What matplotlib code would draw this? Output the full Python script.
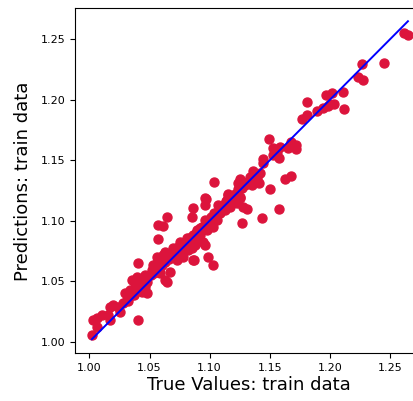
import matplotlib
matplotlib.use("Agg")
import matplotlib.pyplot as plt
import numpy as np

# true target values and model predictions on the training set
y_true = [
    1.2620, 1.2650, 1.2271, 1.2454, 1.2233, 1.2280, 1.2113, 1.2119, 1.1967, 1.2017,
    1.2003, 1.2038, 1.1988, 1.1942, 1.1892, 1.1814, 1.1809, 1.1767, 1.1495, 1.1587,
    1.1559, 1.1578, 1.1678, 1.1720, 1.1656, 1.1448, 1.1443, 1.1628, 1.1676, 1.1503,
    1.1040, 1.1364, 1.1420, 1.1393, 1.1414, 1.1351, 1.1254, 1.1240, 1.1295, 1.1268,
    1.0968, 1.1151, 1.1198, 1.1254, 1.1578, 1.1434, 1.1273, 1.1309, 1.1276, 1.1156,
    1.1198, 1.1254, 1.1226, 1.1171, 1.1129, 1.0020, 1.0033, 1.0062, 1.0103, 1.0062,
    1.0158, 1.0172, 1.0172, 1.0200, 1.0241, 1.0255, 1.0283, 1.0311, 1.0297, 1.0353,
    1.0339, 1.0353, 1.0380, 1.0422, 1.0449, 1.0400, 1.0408, 1.0394, 1.0436, 1.0463,
    1.0463, 1.0478, 1.0436, 1.0380, 1.0463, 1.0519, 1.0532, 1.0561, 1.0588, 1.0574,
    1.0561, 1.0602, 1.0616, 1.0644, 1.0630, 1.0588, 1.0630, 1.0644, 1.0671, 1.0574,
    1.0574, 1.0616, 1.0644, 1.0699, 1.0713, 1.0740, 1.0727, 1.0769, 1.0796, 1.0755,
    1.0811, 1.0782, 1.0824, 1.0852, 1.0865, 1.0852, 1.0865, 1.0879, 1.0907, 1.0921,
    1.0894, 1.0935, 1.0963, 1.0977, 1.0949, 1.0963, 1.0852, 1.0865, 1.0963, 1.0963,
    1.0871, 1.0990, 1.1032, 1.1004, 1.1032, 1.1046, 1.1060, 1.1087, 1.1073, 1.1101,
    1.1129, 1.1143, 1.1156, 1.1531, 1.1531, 1.1680, 1.1718,
    1.0320, 1.0370, 1.0410, 1.0440, 1.0480, 1.0510, 1.0540, 1.0570, 1.0600, 1.0630,
    1.0660, 1.0690, 1.0720, 1.0750, 1.0780, 1.0810, 1.0830, 1.0860, 1.0890, 1.0920,
    1.0950, 1.0980, 1.1010, 1.1040, 1.1080, 1.1110, 1.1140, 1.1180, 1.1210, 1.1240,
    1.1270, 1.1310, 1.1340, 1.1370,
]
y_pred = [
    1.2550, 1.2535, 1.2293, 1.2302, 1.2191, 1.2164, 1.2064, 1.1921, 1.2037, 1.2059,
    1.1965, 1.1965, 1.1949, 1.1935, 1.1910, 1.1984, 1.1874, 1.1839, 1.1673, 1.1612,
    1.1571, 1.1516, 1.1618, 1.1591, 1.1599, 1.1508, 1.1475, 1.1345, 1.1372, 1.1262,
    1.1323, 1.1411, 1.1392, 1.1351, 1.1315, 1.1295, 1.1345, 1.1310, 1.1296, 1.1268,
    1.1177, 1.1221, 1.1199, 1.1194, 1.1097, 1.1025, 1.0979, 1.1097, 1.1116, 1.1213,
    1.1171, 1.1186, 1.1144, 1.1116, 1.1089, 1.0055, 1.0179, 1.0193, 1.0221, 1.0124,
    1.0221, 1.0179, 1.0289, 1.0303, 1.0289, 1.0248, 1.0317, 1.0345, 1.0400, 1.0386,
    1.0427, 1.0510, 1.0483, 1.0455, 1.0441, 1.0179, 1.0648, 1.0537, 1.0510, 1.0551,
    1.0496, 1.0400, 1.0413, 1.0427, 1.0455, 1.0593, 1.0634, 1.0607, 1.0620, 1.0676,
    1.0703, 1.0662, 1.0717, 1.0703, 1.0744, 1.0565, 1.0510, 1.0496, 1.0579, 1.0847,
    1.0965, 1.0957, 1.1028, 1.0772, 1.0731, 1.0785, 1.0675, 1.0744, 1.0799, 1.0827,
    1.0855, 1.0703, 1.0758, 1.0813, 1.0868, 1.0772, 1.0675, 1.0799, 1.0840, 1.0882,
    1.0923, 1.0951, 1.1006, 1.0923, 1.0827, 1.0799, 1.1028, 1.1102, 1.1186, 1.1130,
    1.0675, 1.0703, 1.0634, 1.0979, 1.0951, 1.1047, 1.1006, 1.1062, 1.1130, 1.1103,
    1.1116, 1.1171, 1.1144, 1.1544, 1.1600, 1.1650, 1.1625,
    1.0340, 1.0390, 1.0430, 1.0460, 1.0490, 1.0550, 1.0570, 1.0590, 1.0630, 1.0660,
    1.0680, 1.0710, 1.0740, 1.0770, 1.0800, 1.0820, 1.0860, 1.0880, 1.0900, 1.0940,
    1.0960, 1.1000, 1.1030, 1.1060, 1.1090, 1.1130, 1.1160, 1.1200, 1.1220, 1.1260,
    1.1290, 1.1320, 1.1360, 1.1390,
]

fig = plt.figure(figsize=(4.14, 4.01), dpi=100)
ax = fig.add_axes([0.1812, 0.119, 0.839, 0.860])

ax.scatter(y_true, y_pred, c='crimson', s=42)

# identity line over the full range of values
p1 = max(max(y_pred), max(y_true))
p2 = min(min(y_pred), min(y_true))
ax.plot([p1, p2], [p1, p2], 'b-', linewidth=1.4)

ax.set_xlim(0.988, 1.277)
ax.set_ylim(0.9904, 1.2756)
ax.set_xticks([1.00, 1.05, 1.10, 1.15, 1.20, 1.25])
ax.set_yticks([1.00, 1.05, 1.10, 1.15, 1.20, 1.25])
ax.tick_params(labelsize=8)

ax.set_xlabel('True Values: train data', fontsize=13, labelpad=2)
ax.set_ylabel('Predictions: train data', fontsize=13, labelpad=6)

fig.savefig('out.png', dpi=100)
